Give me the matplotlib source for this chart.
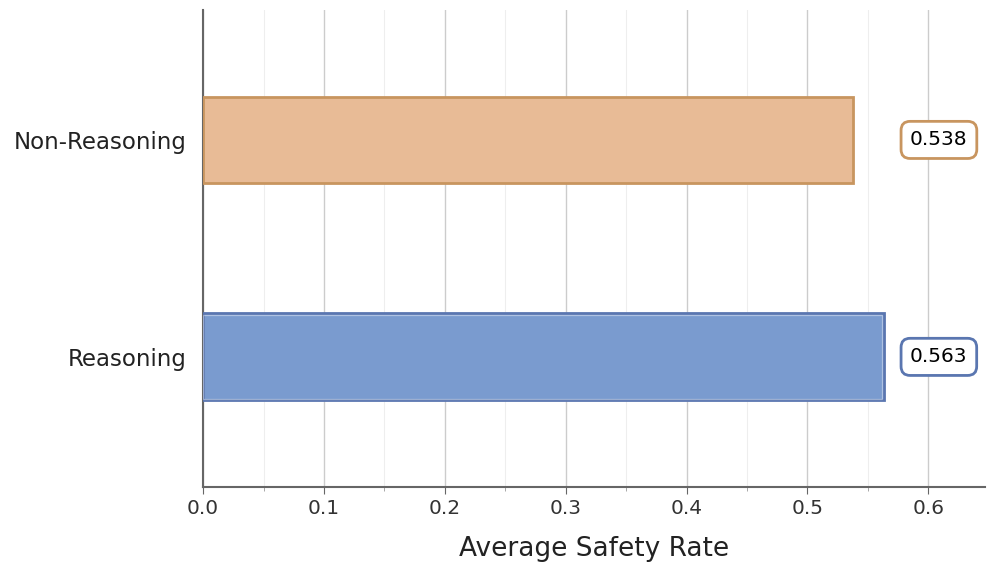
import matplotlib
matplotlib.use("Agg")
import matplotlib.pyplot as plt
from matplotlib.ticker import MultipleLocator

categories = ["Reasoning", "Non-Reasoning"]
values = [0.563, 0.538]
face_colors = ["#7a9bcf", "#e8bb96"]
edge_colors = ["#5a76b0", "#c8955f"]

fig = plt.figure(figsize=(9.96, 5.73), dpi=100)
ax = fig.add_axes([0.204, 0.150, 0.785, 0.833])

ypos = list(range(len(categories)))
ax.barh(ypos, values, height=0.4, color=face_colors, edgecolor=edge_colors,
        linewidth=2, zorder=3)
# subtle inner highlight on the best bar
best = values.index(max(values))
ax.barh(ypos[best], values[best] - 0.0016, height=0.4 - 0.012, color="none",
        edgecolor=(1, 1, 1, 0.4), linewidth=0.9, zorder=4)

for y, v, ec in zip(ypos, values, edge_colors):
    ax.text(0.585, y, f"{v:.3f}", ha="left", va="center", fontsize=14.5, color="black",
            bbox=dict(boxstyle="round,pad=0.45", facecolor="white", edgecolor=ec, linewidth=2),
            zorder=5)

ax.set_yticks(ypos)
ax.set_yticklabels(categories, fontsize=16.5, color="#222222")
ax.set_xlim(0, 0.647)
ax.set_ylim(-0.6, 1.6)
ax.xaxis.set_major_locator(MultipleLocator(0.1))
ax.xaxis.set_minor_locator(MultipleLocator(0.05))
ax.tick_params(axis="x", which="major", labelsize=14.5, length=5, color="#666666", labelcolor="#333333")
ax.tick_params(axis="x", which="minor", length=3, color="#999999")
ax.tick_params(axis="y", length=0, pad=12)
ax.grid(axis="x", which="major", color="#cccccc", linewidth=1, zorder=0)
ax.grid(axis="x", which="minor", color="#eeeeee", linewidth=0.8, zorder=0)
ax.set_axisbelow(True)
for s in ["top", "right"]:
    ax.spines[s].set_visible(False)
for s in ["left", "bottom"]:
    ax.spines[s].set_color("#666666")
    ax.spines[s].set_linewidth(1.5)
ax.set_xlabel("Average Safety Rate", fontsize=19, color="#222222", labelpad=13)

fig.savefig("out.png", dpi=100)
